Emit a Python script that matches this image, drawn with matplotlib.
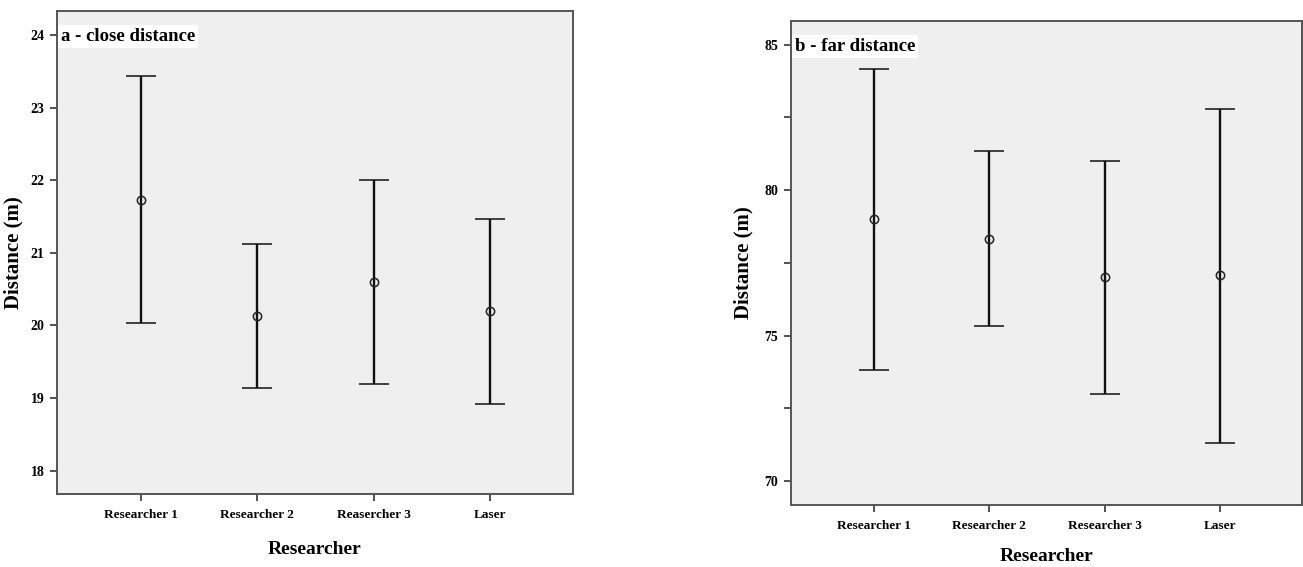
import numpy as np
import matplotlib.pyplot as plt

plt.rcParams['font.family'] = ['Liberation Serif', 'DejaVu Serif']
plt.rcParams['font.weight'] = 'bold'

researchers = ['Researcher 1', 'Researcher 2', 'Reasercher 3', 'Laser']
researchers_b = ['Researcher 1', 'Researcher 2', 'Researcher 3', 'Laser']

# a - close distance: mean and 95% CI bounds (m)
close_mean = [21.73, 20.13, 20.60, 20.20]
close_low = [20.04, 19.14, 19.20, 18.92]
close_high = [23.43, 21.12, 22.00, 21.47]

# b - far distance
far_mean = [78.99, 78.33, 77.00, 77.07]
far_low = [73.83, 75.32, 73.01, 71.32]
far_high = [84.15, 81.34, 81.00, 82.79]

fig = plt.figure(figsize=(13.03, 5.67), dpi=100)
ax1 = fig.add_axes([57/1303, 1-494/567, (573-57)/1303, (494-11)/567])
ax2 = fig.add_axes([791/1303, 1-505/567, (1302-791)/1303, (505-21)/567])


def draw(ax, labels, mean, low, high, ylim, ticks, ticklabels, title):
    x = np.arange(len(labels))
    mean = np.array(mean)
    err = [mean - np.array(low), np.array(high) - mean]
    ax.errorbar(x, mean, yerr=err, fmt='o', color='black', mfc='none', mec='#222222',
                ms=6, mew=1.1, ecolor='#111111', elinewidth=1.7, capsize=10.5, capthick=1.7)
    ax.set_facecolor('#efefef')
    ax.set_xlim(-0.72, 3.71)
    ax.set_ylim(*ylim)
    ax.set_xticks(x)
    ax.set_xticklabels(labels, fontsize=9.5, fontweight='bold')
    ax.set_yticks(ticks)
    ax.set_yticklabels(ticklabels, fontsize=10, fontweight='bold')
    ax.tick_params(direction='out', length=5, width=1.2, color='#333333', pad=4)
    ax.tick_params(axis='x', pad=6)
    for s in ax.spines.values():
        s.set_color('#555555')
        s.set_linewidth(1.4)
    ax.set_xlabel('Researcher', fontsize=14, fontweight='bold', labelpad=14)
    ax.set_ylabel('Distance (m)', fontsize=15, fontweight='bold', labelpad=5)
    ax.text(0.008, 0.965, title, transform=ax.transAxes, fontsize=13.5, fontweight='bold',
            va='top', ha='left',
            bbox=dict(facecolor='white', edgecolor='none', pad=2))


draw(ax1, researchers, close_mean, close_low, close_high, (17.68, 24.33),
     [18, 19, 20, 21, 22, 23, 24], ['18', '19', '20', '21', '22', '23', '24'],
     'a - close distance')
draw(ax2, researchers_b, far_mean, far_low, far_high, (69.18, 85.81),
     [70, 72.5, 75, 77.5, 80, 82.5, 85], ['70', '', '75', '', '80', '', '85'],
     'b - far distance')
ax2.xaxis.labelpad = 11
ax2.yaxis.labelpad = 8

plt.savefig('out.png', dpi=100)
